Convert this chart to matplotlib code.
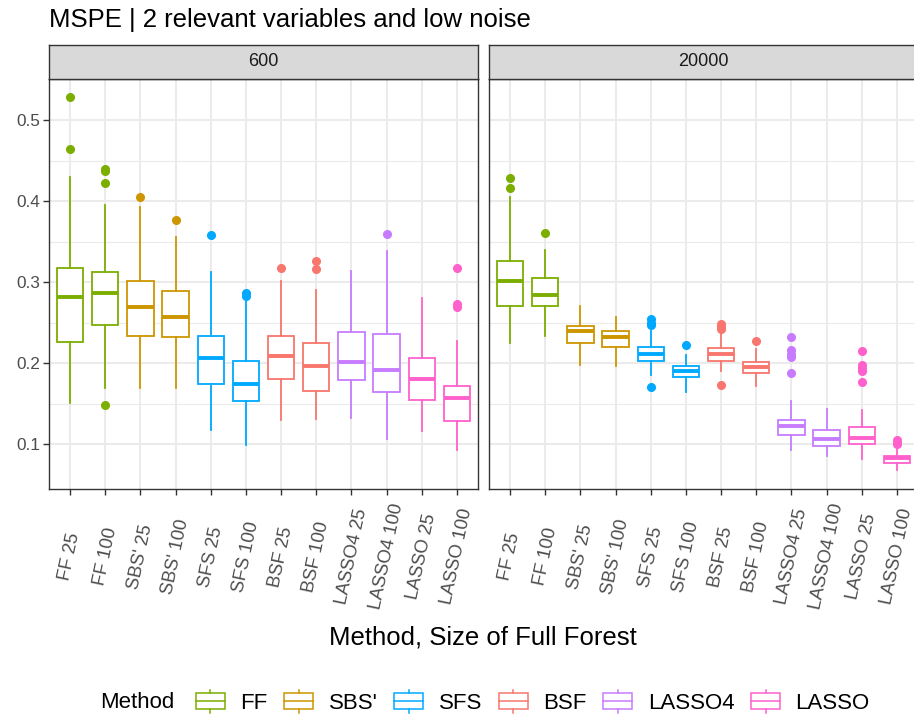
import matplotlib
matplotlib.use("Agg")
import matplotlib.pyplot as plt
from matplotlib.legend_handler import HandlerBase
from matplotlib.patches import Rectangle
from matplotlib.lines import Line2D

plt.rcParams['font.family'] = ['Liberation Sans', 'DejaVu Sans']

categories = ["FF 25", "FF 100", "SBS' 25", "SBS' 100", "SFS 25", "SFS 100",
              "BSF 25", "BSF 100", "LASSO4 25", "LASSO4 100", "LASSO 25", "LASSO 100"]
methods = ["FF", "SBS'", "SFS", "BSF", "LASSO4", "LASSO"]
method_colors = ["#7CAE00", "#CD9600", "#00A9FF", "#F8766D", "#C77CFF", "#FF61CC"]
facets = ["600", "20000"]

# panel "600"
whislo_600 = [0.151, 0.169, 0.169, 0.169, 0.118, 0.099, 0.130, 0.131, 0.133, 0.107, 0.116, 0.093]
q1_600 = [0.226, 0.247, 0.234, 0.232, 0.174, 0.154, 0.181, 0.166, 0.179, 0.165, 0.155, 0.129]
med_600 = [0.282, 0.287, 0.269, 0.257, 0.207, 0.174, 0.209, 0.197, 0.202, 0.192, 0.180, 0.157]
q3_600 = [0.318, 0.312, 0.301, 0.289, 0.234, 0.203, 0.234, 0.225, 0.238, 0.236, 0.207, 0.172]
whishi_600 = [0.430, 0.395, 0.393, 0.356, 0.313, 0.278, 0.301, 0.290, 0.314, 0.338, 0.281, 0.227]
fliers_600 = [[0.528, 0.464], [0.440, 0.437, 0.422, 0.148], [0.405], [0.377], [0.358],
              [0.287, 0.283], [0.318], [0.326, 0.316], [], [0.360], [], [0.318, 0.273, 0.269]]

# panel "20000"
whislo_20000 = [0.225, 0.234, 0.198, 0.197, 0.186, 0.165, 0.190, 0.172, 0.093, 0.086, 0.082, 0.068]
q1_20000 = [0.271, 0.270, 0.225, 0.220, 0.203, 0.183, 0.203, 0.188, 0.111, 0.098, 0.100, 0.077]
med_20000 = [0.301, 0.284, 0.240, 0.232, 0.211, 0.190, 0.211, 0.195, 0.122, 0.107, 0.108, 0.083]
q3_20000 = [0.326, 0.305, 0.246, 0.240, 0.220, 0.197, 0.219, 0.201, 0.130, 0.118, 0.121, 0.086]
whishi_20000 = [0.405, 0.340, 0.271, 0.257, 0.240, 0.210, 0.236, 0.218, 0.153, 0.144, 0.142, 0.095]
fliers_20000 = [[0.428, 0.416], [0.361], [], [], [0.254, 0.250, 0.247, 0.171], [0.222],
                [0.249, 0.245, 0.242, 0.173], [0.227], [0.232, 0.216, 0.212, 0.208, 0.188],
                [], [0.215, 0.198, 0.194, 0.191, 0.177], [0.105, 0.102, 0.100]]

panels = {
    "600": (whislo_600, q1_600, med_600, q3_600, whishi_600, fliers_600),
    "20000": (whislo_20000, q1_20000, med_20000, q3_20000, whishi_20000, fliers_20000),
}

W, H = 914, 719
fig = plt.figure(figsize=(W / 100, H / 100), dpi=100)

def fx(px):
    return px / W

def fy(py):
    return 1 - py / H

panel_left = [49, 489]
panel_w = 429
panel_top, panel_bot = 79, 489
strip_top = 45

grey20 = "#333333"
grey30 = "#4D4D4D"
grid_col = "#EBEBEB"

positions = list(range(1, len(categories) + 1))
cat_colors = [method_colors[i // 2] for i in range(len(categories))]

for k, facet in enumerate(facets):
    wl, q1, md, q3, wh, fl = panels[facet]
    ax = fig.add_axes([fx(panel_left[k]), fy(panel_bot), fx(panel_w), (panel_bot - panel_top) / H])
    ax.set_xlim(0.4, 12.6)
    ax.set_ylim(0.0449, 0.5506)
    ax.set_facecolor("white")
    # grid
    for yv in [0.15, 0.25, 0.35, 0.45]:
        ax.axhline(yv, color=grid_col, lw=0.8, zorder=0)
    for yv in [0.1, 0.2, 0.3, 0.4, 0.5]:
        ax.axhline(yv, color=grid_col, lw=1.5, zorder=0)
    for xv in positions:
        ax.axvline(xv, color=grid_col, lw=1.5, zorder=0)
    stats = []
    for i in range(len(categories)):
        stats.append(dict(whislo=wl[i], q1=q1[i], med=md[i], q3=q3[i], whishi=wh[i],
                          fliers=fl[i], label=categories[i]))
    for i in range(len(categories)):
        c = cat_colors[i]
        ax.bxp([stats[i]], positions=[positions[i]], widths=0.75, patch_artist=True,
               showcaps=False,
               boxprops=dict(facecolor="white", edgecolor=c, lw=1.3),
               whiskerprops=dict(color=c, lw=1.3),
               medianprops=dict(color=c, lw=2.8, solid_capstyle='butt'),
               flierprops=dict(marker='o', markerfacecolor=c, markeredgecolor=c,
                               markersize=5.5, linestyle='none'),
               zorder=3)
    ax.set_xticks(positions)
    ax.set_xticklabels(categories, rotation=78, ha='center', va='center',
                       fontsize=13.3, color=grey30)
    ax.tick_params(axis='x', length=4.3, width=1.0, color=grey20, pad=44.5)
    ax.set_yticks([0.1, 0.2, 0.3, 0.4, 0.5])
    if k == 0:
        ax.set_yticklabels(["0.1", "0.2", "0.3", "0.4", "0.5"], fontsize=12.4, color=grey30)
        ax.tick_params(axis='y', length=4.3, width=1.0, color=grey20, pad=2)
    else:
        ax.tick_params(axis='y', length=0, labelleft=False)
    for s in ax.spines.values():
        s.set_color(grey20)
        s.set_linewidth(1.0)
    # strip
    sax = fig.add_axes([fx(panel_left[k]), fy(panel_top), fx(panel_w), (panel_top - strip_top) / H])
    sax.set_facecolor("#D9D9D9")
    sax.set_xticks([])
    sax.set_yticks([])
    for s in sax.spines.values():
        s.set_color(grey20)
        s.set_linewidth(1.0)
    sax.text(0.5, 0.5, facet, transform=sax.transAxes, ha='center', va='center',
             fontsize=13, color="#1A1A1A")

fig.text(fx(49), fy(20), "MSPE | 2 relevant variables and low noise", ha='left', va='center',
         fontsize=18.5, color="black")
fig.text(fx(483), fy(637), "Method, Size of Full Forest", ha='center', va='center',
         fontsize=18.5, color="black")


class BoxKeyHandler(HandlerBase):
    def __init__(self, color):
        super().__init__()
        self.color = color

    def create_artists(self, legend, orig_handle, xdescent, ydescent, width, height,
                       fontsize, trans):
        x0, y0 = -xdescent, -ydescent
        c = self.color
        rect = Rectangle((x0, y0 + 0.15 * height), width, 0.7 * height, facecolor="white",
                         edgecolor=c, lw=1.1, transform=trans)
        med = Line2D([x0, x0 + width], [y0 + 0.5 * height] * 2, color=c, lw=1.1, transform=trans)
        w1 = Line2D([x0 + width / 2] * 2, [y0, y0 + 0.15 * height], color=c, lw=1.1, transform=trans)
        w2 = Line2D([x0 + width / 2] * 2, [y0 + 0.85 * height, y0 + height], color=c, lw=1.1,
                    transform=trans)
        return [rect, med, w1, w2]


handles = [Line2D([], [], color=c) for c in method_colors]
handler_map = {h: BoxKeyHandler(c) for h, c in zip(handles, method_colors)}
fig.text(fx(100), fy(702), "Method", ha='left', va='center', fontsize=16, color="black")
leg = fig.legend(handles, methods, handler_map=handler_map, ncol=6, loc='center left',
                 bbox_to_anchor=(fx(196), fy(702)), frameon=False, fontsize=16,
                 handlelength=1.3, handleheight=1.2, handletextpad=0.7, columnspacing=0.75,
                 borderpad=0, borderaxespad=0)
for t in leg.get_texts():
    t.set_color("black")

fig.savefig("out.png", dpi=100)
